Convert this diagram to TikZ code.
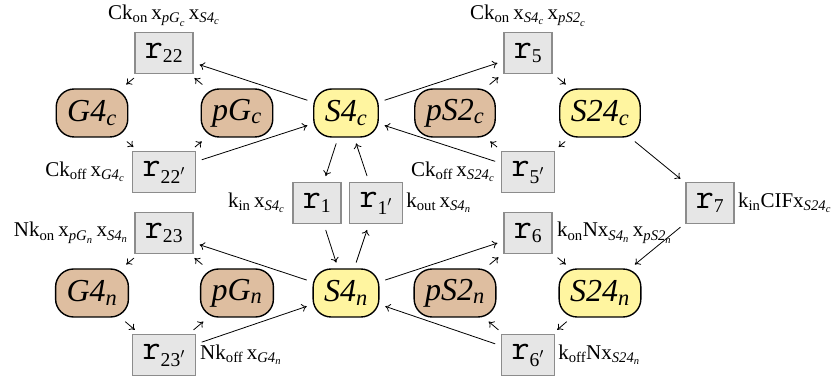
\documentclass[tikz,border=0pt]{standalone}
\usepackage{fontspec}
\setmainfont{Liberation Serif}
\usepackage{amsmath}
\usetikzlibrary{arrows.meta, positioning}
\definecolor{spYel} {RGB}{255, 245, 160}
\definecolor{spTan} {RGB}{222, 190, 160}
\definecolor{rxFill}{RGB}{230, 230, 230}
\definecolor{rxEdge}{RGB}{140, 140, 140}

\newcommand{\spname}[2]{\textit{#1}$_{\textit{#2}}$}
\newcommand{\rxname}[1]{{\fontsize{35}{36}\selectfont\ttfamily r}$_{\text{#1}}$}
\newcommand{\xof}[2]{x$_{\textit{#1}_{\textit{#2}}}$}

\begin{document}
\begin{tikzpicture}[x=1pt, y=-1pt,
  spc/.style={draw, line width=1.4pt, rounded corners=18pt,
    minimum height=48pt, inner xsep=11pt, font=\fontsize{32}{36}\selectfont},
  spY/.style={spc, fill=spYel},
  spT/.style={spc, fill=spTan},
  rxn/.style={draw=rxEdge, fill=rxFill, line width=1.5pt,
    minimum height=41pt, inner xsep=10pt, font=\fontsize{28}{30}\selectfont},
  rate/.style={inner sep=0pt, font=\fontsize{21}{24}\selectfont},
  flux/.style={-{To[length=5pt, width=8pt]}, line width=0.8pt,
    shorten <=6pt, shorten >=6pt}]
  \useasboundingbox (0,0) rectangle (838,379);

  % ---- Species: cytoplasm (top row) ----
  \node[spT] (G4c)  at (92, 113)  {\spname{G4}{c}};
  \node[spT] (pGc)  at (237, 113) {\spname{pG}{c}};
  \node[spY] (S4c)  at (346, 113) {\spname{S4}{c}};
  \node[spT] (pS2c) at (455, 113) {\spname{pS2}{c}};
  \node[spY] (S24c) at (600, 113) {\spname{S24}{c}};

  % ---- Species: nucleus (bottom row) ----
  \node[spT] (G4n)  at (92, 293)  {\spname{G4}{n}};
  \node[spT] (pGn)  at (237, 293) {\spname{pG}{n}};
  \node[spY] (S4n)  at (346, 293) {\spname{S4}{n}};
  \node[spT] (pS2n) at (455, 293) {\spname{pS2}{n}};
  \node[spY] (S24n) at (600, 293) {\spname{S24}{n}};

  % ---- Reactions ----
  \node[rxn] (r22)  at (164, 53)  {\rxname{22}};
  \node[rxn] (r22p) at (164, 172) {\rxname{22$'$}};
  \node[rxn] (r5)   at (528, 53)  {\rxname{5}};
  \node[rxn] (r5p)  at (528, 172) {\rxname{5$'$}};
  \node[rxn] (r1)   at (317, 203) {\rxname{1}};
  \node[rxn] (r1p)  at (376, 203) {\rxname{1$'$}};
  \node[rxn] (r7)   at (710, 203) {\rxname{7}};
  \node[rxn] (r23)  at (164, 233) {\rxname{23}};
  \node[rxn] (r23p) at (164, 355) {\rxname{23$'$}};
  \node[rxn] (r6)   at (528, 233) {\rxname{6}};
  \node[rxn] (r6p)  at (528, 355) {\rxname{6$'$}};

  % ---- Rate laws ----
  \node[rate, above=5pt of r22]  (k22)  {Ck$_{\text{on}}$\,\xof{pG}{c}\,\xof{S4}{c}};
  \node[rate, left=7pt of r22p]  (k22p) {Ck$_{\text{off}}$\,\xof{G4}{c}};
  \node[rate, above=5pt of r5]   (k5)   {Ck$_{\text{on}}$\,\xof{S4}{c}\,\xof{pS2}{c}};
  \node[rate, left=6pt of r5p]   (k5p)  {Ck$_{\text{off}}$\,\xof{S24}{c}};
  \node[rate, left=7pt of r1]    (k1)   {k$_{\text{in}}$\,\xof{S4}{c}};
  \node[rate, right=3pt of r1p]  (k1p)  {k$_{\text{out}}$\,\xof{S4}{n}};
  \node[rate, right=3pt of r7]   (k7)   {k$_{\text{in}}$CIF\xof{S24}{c}};
  \node[rate, left=6pt of r23]   (k23)  {Nk$_{\text{on}}$\,\xof{pG}{n}\,\xof{S4}{n}};
  \node[rate, right=4pt of r23p] (k23p) {Nk$_{\text{off}}$\,\xof{G4}{n}};
  \node[rate, right=4pt of r6]   (k6)   {k$_{\text{on}}$N\xof{S4}{n}\,\xof{pS2}{n}};
  \node[rate, right=3pt of r6p]  (k6p)  {k$_{\text{off}}$N\xof{S24}{n}};

  % ---- Cytoplasm cycles ----
  \draw[flux] (S4c) -- (r22);   \draw[flux] (pGc) -- (r22);
  \draw[flux] (r22) -- (G4c);   \draw[flux] (G4c) -- (r22p);
  \draw[flux] (r22p) -- (pGc);  \draw[flux] (r22p) -- (S4c);
  \draw[flux] (S4c) -- (r5);    \draw[flux] (pS2c) -- (r5);
  \draw[flux] (r5) -- (S24c);   \draw[flux] (S24c) -- (r5p);
  \draw[flux] (r5p) -- (pS2c);  \draw[flux] (r5p) -- (S4c);

  % ---- Transport ----
  \draw[flux] (S4c) -- (r1);    \draw[flux] (r1) -- (S4n);
  \draw[flux] (S4n) -- (r1p);   \draw[flux] (r1p) -- (S4c);
  \draw[flux] (S24c) -- (r7);   \draw[flux] (r7) -- (S24n);

  % ---- Nucleus cycles ----
  \draw[flux] (S4n) -- (r23);   \draw[flux] (pGn) -- (r23);
  \draw[flux] (r23) -- (G4n);   \draw[flux] (G4n) -- (r23p);
  \draw[flux] (r23p) -- (pGn);  \draw[flux] (r23p) -- (S4n);
  \draw[flux] (S4n) -- (r6);    \draw[flux] (pS2n) -- (r6);
  \draw[flux] (r6) -- (S24n);   \draw[flux] (S24n) -- (r6p);
  \draw[flux] (r6p) -- (pS2n);  \draw[flux] (r6p) -- (S4n);
\end{tikzpicture}
\end{document}
